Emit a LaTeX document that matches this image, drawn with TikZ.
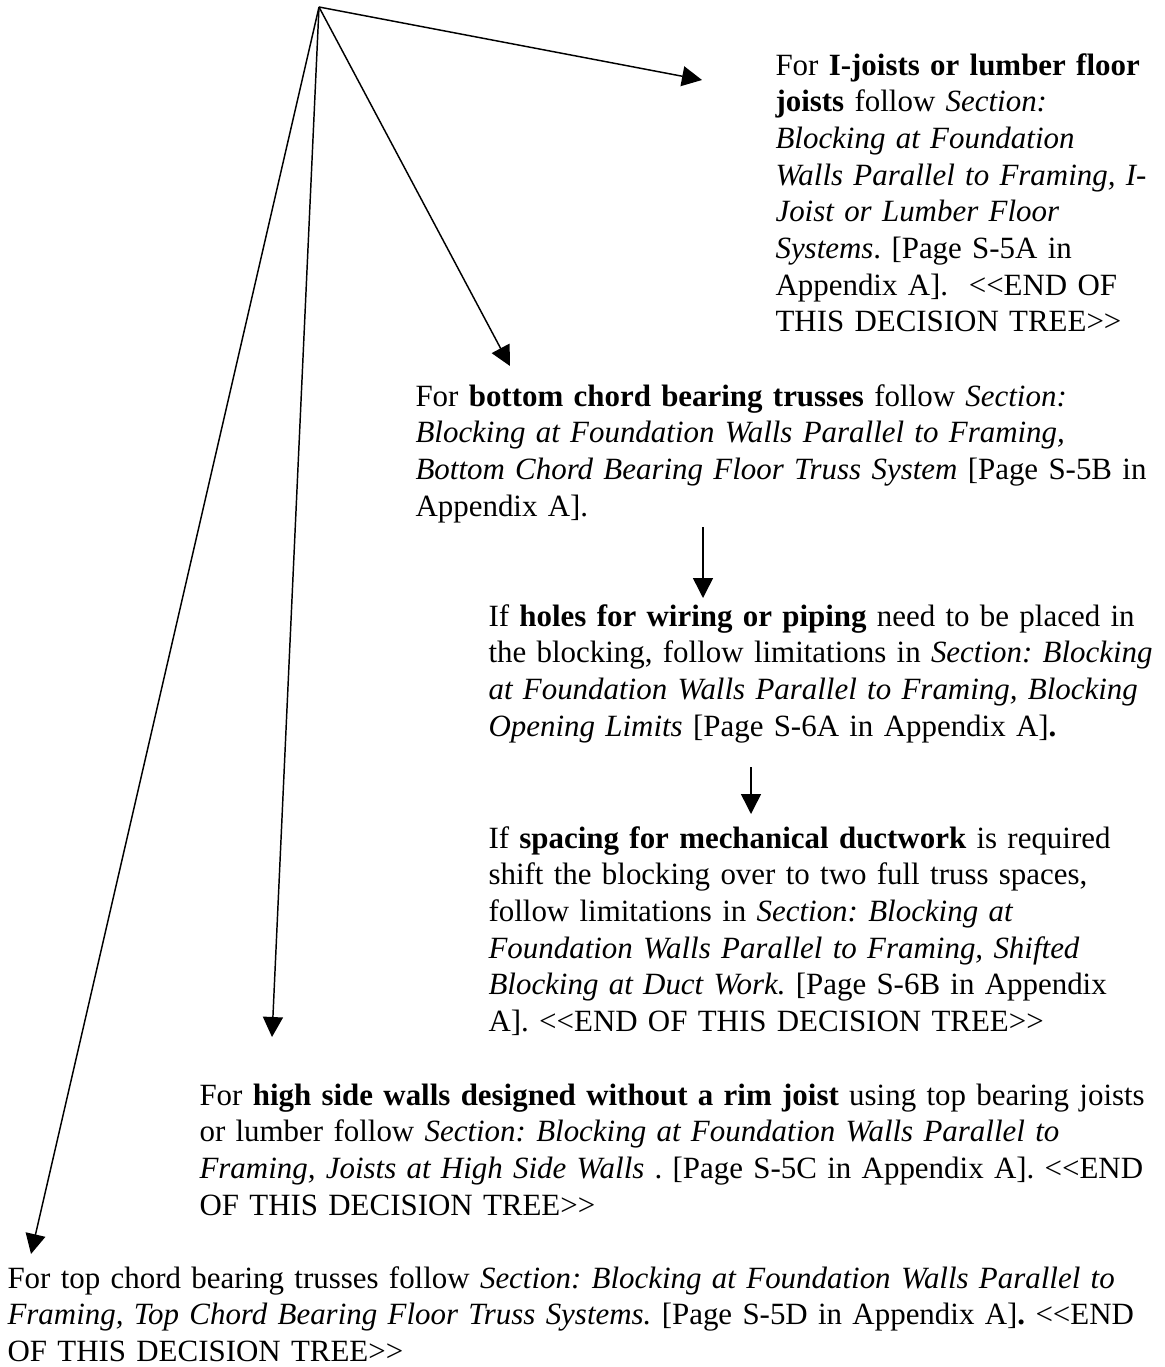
\documentclass[tikz,border=0pt]{standalone}
\usepackage{fontspec}
\setmainfont{Liberation Serif}[Ligatures=TeXOff]
\usetikzlibrary{arrows.meta}

\begin{document}
\begin{tikzpicture}[x=0.375pt, y=-0.375pt,
    txt/.style={anchor=base west, inner sep=0pt, text width=1100pt, align=left,
                font=\fontsize{11.6}{13.76}\selectfont\frenchspacing},
    arr/.style={line width=0.55pt, -{Triangle[length=7.5pt,width=7.5pt]}}]
    \useasboundingbox (0,0) rectangle (1165,1367);

    % Root
    \coordinate (top) at (319,7);

    % Decisions
    \node[txt] (ijoist) at (775,75) {For \textbf{I-joists or lumber floor}\\
        \textbf{joists} follow \textit{Section:}\\
        \textit{Blocking at Foundation}\\
        \textit{Walls Parallel to Framing, I-}\\
        \textit{Joist or Lumber Floor}\\
        \textit{Systems}. [Page S-5A in\\
        Appendix A].\ \ <<END OF\\
        THIS DECISION TREE>>};
    \node[txt] (bottom) at (415,406) {For \textbf{bottom chord bearing trusses} follow \textit{Section:}\\
        \textit{Blocking at Foundation Walls Parallel to Framing,}\\
        \textit{Bottom Chord Bearing Floor Truss System} [Page S-5B in\\
        Appendix A].};
    \node[txt] (holes) at (488,626) {If \textbf{holes for wiring or piping} need to be placed in\\
        the blocking, follow limitations in \textit{Section: Blocking}\\
        \textit{at Foundation Walls Parallel to Framing, Blocking}\\
        \textit{Opening Limits} [Page S-6A in Appendix A]\textbf{.}};
    \node[txt] (duct) at (488,848) {If \textbf{spacing for mechanical ductwork} is required\\
        shift the blocking over to two full truss spaces,\\
        follow limitations in \textit{Section: Blocking at}\\
        \textit{Foundation Walls Parallel to Framing, Shifted}\\
        \textit{Blocking at Duct Work.} [Page S-6B in Appendix\\
        A]. <<END OF THIS DECISION TREE>>};
    \node[txt] (highside) at (199,1105) {For \textbf{high side walls designed without a rim joist} using top bearing joists\\
        or lumber follow \textit{Section: Blocking at Foundation Walls Parallel to}\\
        \textit{Framing, Joists at High Side Walls} . [Page S-5C in Appendix A]. <<END\\
        OF THIS DECISION TREE>>};
    \node[txt] (topchord) at (7,1288) {For top chord bearing trusses follow \textit{Section: Blocking at Foundation Walls Parallel to}\\
        \textit{Framing, Top Chord Bearing Floor Truss Systems.} [Page S-5D in Appendix A]\textbf{.} <<END\\
        OF THIS DECISION TREE>>};

    % Arrow ends
    \coordinate (ijoist-in) at (702,80);
    \coordinate (bottom-in) at (510,366);
    \coordinate (highside-in) at (272,1037);
    \coordinate (topchord-in) at (31,1254);
    \coordinate (bottom-out) at (703,527);
    \coordinate (holes-in) at (703,598);
    \coordinate (holes-out) at (751,767);
    \coordinate (duct-in) at (751,814);

    % Arrows
    \draw[arr] (top) -- (ijoist-in);
    \draw[arr] (top) -- (bottom-in);
    \draw[arr] (top) -- (highside-in);
    \draw[arr] (top) -- (topchord-in);
    \draw[arr] (bottom-out) -- (holes-in);
    \draw[arr] (holes-out) -- (duct-in);

\end{tikzpicture}
\end{document}
